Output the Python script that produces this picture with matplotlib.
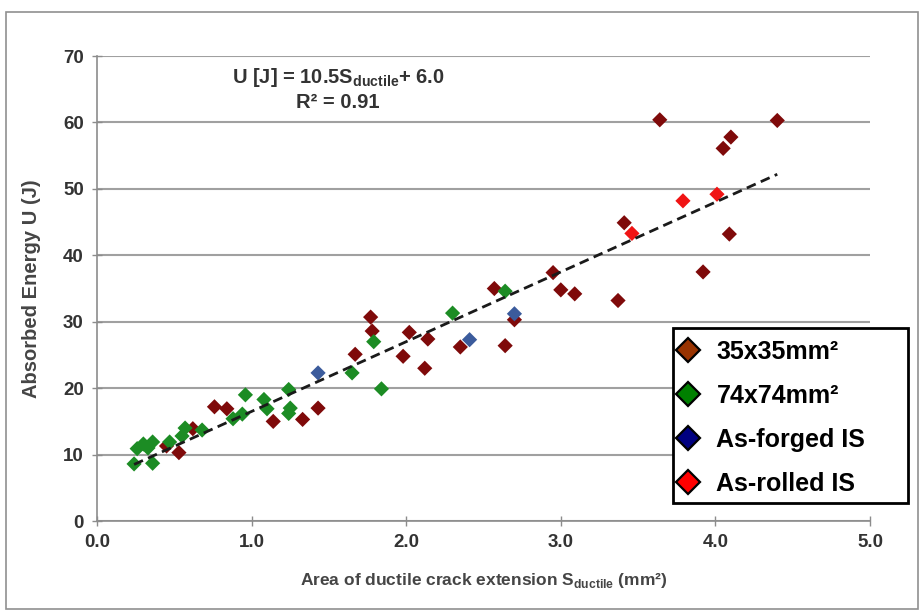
import matplotlib
matplotlib.use("Agg")
import matplotlib.pyplot as plt
from matplotlib.lines import Line2D
from matplotlib.patches import Rectangle
import numpy as np

plt.rcParams['font.family'] = ['Liberation Sans', 'DejaVu Sans']
plt.rcParams['mathtext.fontset'] = 'custom'
plt.rcParams['mathtext.bf'] = 'Liberation Sans:bold'
plt.rcParams['mathtext.rm'] = 'Liberation Sans:bold'

# 35x35mm2 specimens
x_35 = [0.45, 0.53, 0.62, 0.76, 0.84, 1.14, 1.33, 1.43, 1.67, 1.77, 1.78, 1.98, 2.02, 2.12, 2.14,
        2.35, 2.57, 2.64, 2.70, 2.95, 3.00, 3.09, 3.37, 3.41, 3.64, 3.92, 4.05, 4.09, 4.10, 4.40]
y_35 = [11.3, 10.3, 13.9, 17.2, 16.9, 15.0, 15.3, 17.0, 25.1, 30.7, 28.6, 24.8, 28.4, 23.0, 27.4,
        26.2, 35.0, 26.4, 30.3, 37.4, 34.8, 34.2, 33.2, 44.9, 60.4, 37.5, 56.1, 43.2, 57.8, 60.3]

# 74x74mm2 specimens
x_74 = [0.24, 0.36, 0.26, 0.30, 0.33, 0.36, 0.47, 0.55, 0.57, 0.68, 0.88, 0.94, 0.96, 1.08, 1.10,
        1.24, 1.25, 1.24, 1.65, 1.79, 1.84, 2.30, 2.64]
y_74 = [8.6, 8.7, 10.9, 11.6, 11.0, 11.9, 11.9, 12.8, 14.0, 13.7, 15.4, 16.1, 19.0, 18.3, 16.9,
        19.8, 17.0, 16.2, 22.3, 27.0, 19.9, 31.3, 34.6]

# As-forged IS
x_forged = [1.43, 2.41, 2.70]
y_forged = [22.3, 27.3, 31.2]

# As-rolled IS
x_rolled = [3.46, 3.79, 4.01]
y_rolled = [43.3, 48.2, 49.2]

# linear fit U = 10.5*S + 6.0
slope, intercept = 10.5, 6.0
fit_range = [0.24, 4.40]

fig = plt.figure(figsize=(9.2, 6.13), dpi=100)
ax = fig.add_axes([0.1054, 0.150, 0.8403, 0.7586])

ms = 60
ax.scatter(x_35, y_35, marker='D', s=ms, color='#7f0a0a', edgecolors='none', zorder=3)
ax.scatter(x_74, y_74, marker='D', s=ms, color='#1c8c24', edgecolors='none', zorder=3)
ax.scatter(x_forged, y_forged, marker='D', s=ms, color='#3b5b9c', edgecolors='none', zorder=4)
ax.scatter(x_rolled, y_rolled, marker='D', s=ms, color='#f01414', edgecolors='none', zorder=4)

xf = np.array(fit_range)
ax.plot(xf, slope * xf + intercept, linestyle=(0, (3.5, 2)), color='#1a1a1a', lw=2.0, zorder=5)

ax.set_xlim(0, 5)
ax.set_ylim(0, 70)
ax.set_xticks(np.arange(0, 5.01, 1.0))
ax.set_xticklabels(['%.1f' % v for v in np.arange(0, 5.01, 1.0)])
ax.set_yticks(np.arange(0, 71, 10))
ax.yaxis.grid(True, color='#a0a0a0', lw=1.5)
ax.set_axisbelow(True)
for s in ['top', 'right']:
    ax.spines[s].set_visible(False)
for s in ['left', 'bottom']:
    ax.spines[s].set_color('#8c8c8c')
    ax.spines[s].set_linewidth(1.2)
ax.tick_params(axis='both', direction='inout', length=7, color='#8c8c8c', width=1.0,
               labelsize=13.5, labelcolor='#333333', pad=6)
for lab in ax.get_xticklabels() + ax.get_yticklabels():
    lab.set_fontweight('bold')

ax.set_xlabel('Area of ductile crack extension S$_{\\mathbf{ductile}}$ (mm²)', fontsize=12.5,
              fontweight='bold', color='#454545', labelpad=14)
ax.set_ylabel('Absorbed Energy U (J)', fontsize=14.5, fontweight='bold', color='#454545', labelpad=16)

ax.text(1.56, 66.7, 'U [J] = 10.5S$_{\\mathbf{ductile}}$+ 6.0', ha='center', va='center',
        fontsize=14.5, fontweight='bold', color='#333333')
ax.text(1.56, 63.0, 'R² = 0.91', ha='center', va='center',
        fontsize=14.5, fontweight='bold', color='#333333')

handles = [
    Line2D([], [], marker='D', ls='none', markersize=12.5, markerfacecolor='#993300', markeredgecolor='black', markeredgewidth=1.6),
    Line2D([], [], marker='D', ls='none', markersize=12.5, markerfacecolor='#008000', markeredgecolor='black', markeredgewidth=1.6),
    Line2D([], [], marker='D', ls='none', markersize=12.5, markerfacecolor='#000080', markeredgecolor='black', markeredgewidth=1.6),
    Line2D([], [], marker='D', ls='none', markersize=12.5, markerfacecolor='#ff0000', markeredgecolor='black', markeredgewidth=1.6),
]
labels = ['35x35mm²', '74x74mm²', 'As-forged IS', 'As-rolled IS']
leg = fig.legend(handles, labels, loc='upper left', bbox_to_anchor=(674 / 920, 1 - 340 / 613),
                 frameon=False, prop={'weight': 'bold', 'size': 18}, labelspacing=0.8,
                 handletextpad=0.6, borderpad=0, borderaxespad=0, handlelength=1.1)

# legend frame, wider than its entries
fig.patches.append(Rectangle((673 / 920, 1 - 503 / 613), 235 / 920, 175 / 613, transform=fig.transFigure,
                             fill=True, facecolor='white', edgecolor='black', lw=2, zorder=4))
leg.set_zorder(5)

# outer chart border
fig.patches.append(Rectangle((6 / 920, 4 / 613), 912 / 920, 597 / 613, transform=fig.transFigure,
                             fill=False, edgecolor='#909090', lw=1.2))

fig.savefig('out.png', dpi=100)
